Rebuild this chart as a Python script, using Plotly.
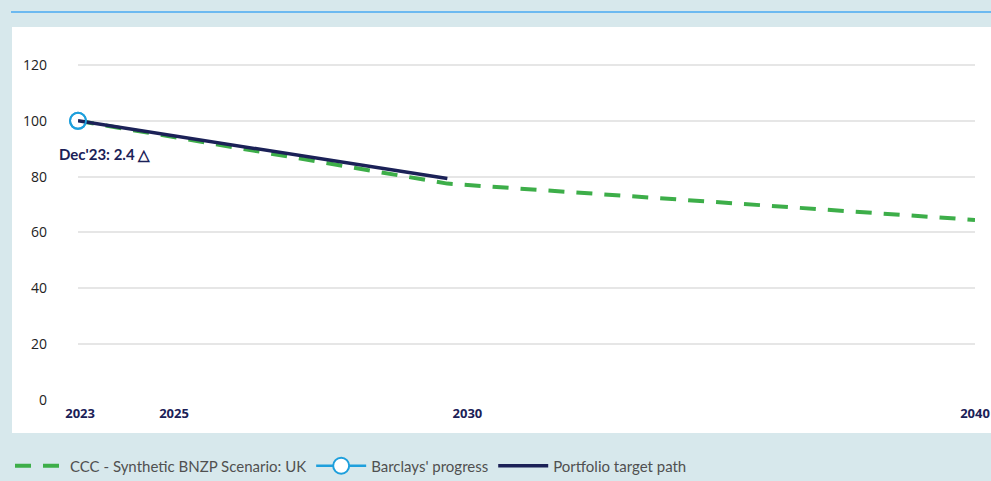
import plotly.graph_objects as go

# Data
ccc_years = [2023, 2030, 2040]
ccc_values = [100, 77.5, 64.5]
target_years = [2023, 2030]
target_values = [100, 79.3]
progress_years = [2023]
progress_values = [100]
progress_label = "Dec'23: 2.4 △"
x_tick_vals = [2023.04, 2024.82, 2030.38, 2040.0]
x_tick_text = ["2023", "2025", "2030", "2040"]
y_tick_vals = [0, 20, 40, 60, 80, 100, 120]

W, H = 991, 481
L, R, T, B = 78, 16, 51, 81
pw, ph = W - L - R, H - T - B

def px_x(p):
    return (p - L) / pw

def px_y(p):
    return (H - B - p) / ph

NAVY = "#1b2157"
GREEN = "#3dae49"
BLUE = "#1e9fdc"
BG = "#d7e8ec"

fig = go.Figure()
fig.add_trace(go.Scatter(
    x=ccc_years, y=ccc_values, mode="lines",
    name="CCC - Synthetic BNZP Scenario: UK",
    line=dict(color=GREEN, width=4, dash="16px,12px"),
))
fig.add_trace(go.Scatter(
    x=progress_years, y=progress_values, mode="lines+markers",
    name="Barclays' progress",
    line=dict(color=BLUE, width=2.5),
    marker=dict(symbol="circle", size=16, color="white",
                line=dict(color=BLUE, width=2)),
    cliponaxis=False,
))
fig.add_trace(go.Scatter(
    x=target_years, y=target_values, mode="lines",
    name="Portfolio target path",
    line=dict(color=NAVY, width=3.5),
))
# redraw progress marker on top
fig.add_trace(go.Scatter(
    x=progress_years, y=progress_values, mode="markers",
    showlegend=False, hoverinfo="skip", cliponaxis=False,
    marker=dict(symbol="circle-open", size=16, color=BLUE,
                line=dict(color=BLUE, width=2)),
))

fig.add_annotation(
    x=progress_years[0], y=progress_values[0], text="<b>" + progress_label + "</b>",
    showarrow=False, xanchor="left", yanchor="middle",
    xshift=-21, yshift=-33,
    font=dict(family="Lato", size=15, color=NAVY),
)

shapes = [
    dict(type="rect", xref="paper", yref="paper",
         x0=px_x(12), x1=px_x(W + 5), y0=px_y(433), y1=px_y(27),
         fillcolor="white", line=dict(width=0), layer="below"),
    dict(type="line", xref="paper", yref="paper",
         x0=px_x(11), x1=px_x(W + 5), y0=px_y(12), y1=px_y(12),
         line=dict(color="#6cb9f0", width=2), layer="below"),
]

fig.update_layout(
    width=W, height=H,
    margin=dict(l=L, r=R, t=T, b=B, autoexpand=False),
    paper_bgcolor=BG, plot_bgcolor="rgba(0,0,0,0)",
    shapes=shapes,
    showlegend=True,
    legend=dict(orientation="h", x=px_x(10), y=px_y(466),
                xanchor="left", yanchor="middle",
                bgcolor="rgba(0,0,0,0)",
                font=dict(family="Lato", size=15, color="#505050"),
                itemwidth=50, tracegroupgap=0),
    xaxis=dict(range=[2023, 2040], tickvals=x_tick_vals, ticktext=x_tick_text,
               showgrid=False, zeroline=False, showline=False, ticks="",
               automargin=False,
               tickfont=dict(family="Open Sans", size=13, color=NAVY, weight="bold"),
               ticklabelstandoff=4),
    yaxis=dict(range=[0, 125], tickvals=y_tick_vals, showgrid=True,
               gridcolor="#e6e6e6", gridwidth=2, zeroline=False, showline=False,
               ticks="", ticklabelstandoff=30, automargin=False,
               tickfont=dict(family="Open Sans", size=14, color="#222222")),
    hovermode=False,
)

fig.write_html(
    "out.html",
    config={"displayModeBar": False},
    post_script="document.body.style.margin='0';document.body.style.background='%s';" % BG,
)
